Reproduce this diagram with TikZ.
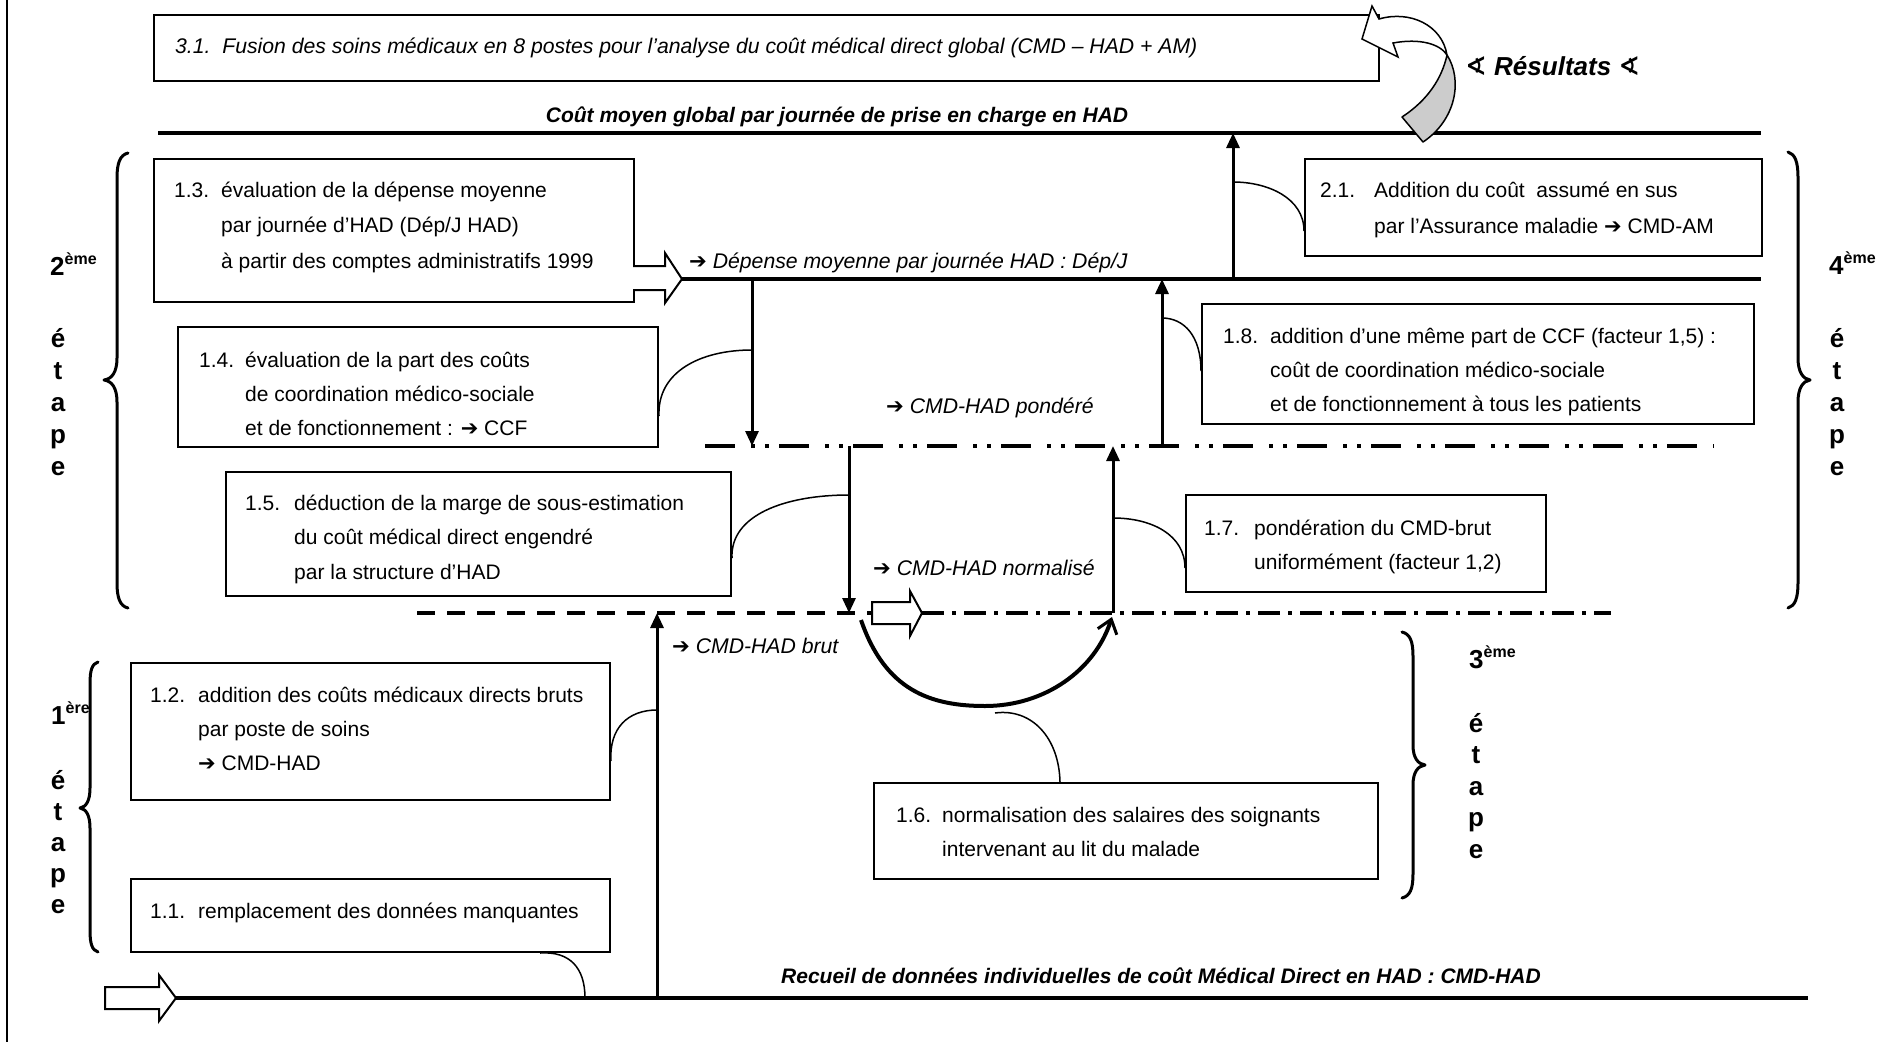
\documentclass[tikz,border=0pt]{standalone}
\usepackage{fontspec}
\setmainfont{Liberation Sans}
\newfontfamily\symfont{DejaVu Sans}
\usetikzlibrary{arrows.meta}

\definecolor{ribbon}{gray}{0.80}
\newcommand\fleche{{\symfont\upshape\bfseries ➔}}
\newcommand\stepno[2]{\makebox[#1][l]{#2}}
\newcommand\stepgap[1]{\hspace*{#1}}

\tikzset{
  stepbox/.style={draw, line width=2pt, fill=white, inner sep=0pt, anchor=north west},
  body/.style={font=\fontsize{21}{#1}\selectfont, inner sep=0pt, anchor=base west},
  body/.default=34,
  note/.style={font=\fontsize{21.2}{25}\selectfont\itshape, inner sep=0pt, anchor=base west},
  headline/.style={font=\fontsize{21}{25}\selectfont\bfseries\itshape, inner sep=0pt},
  stagenum/.style={font=\fontsize{26}{32}\selectfont\bfseries, inner sep=0pt, anchor=base west},
  stageword/.style={font=\fontsize{26}{#1}\selectfont\bfseries, inner sep=0pt, anchor=base},
  stageword/.default=32,
  mainline/.style={line width=4pt},
  flow/.style={line width=3pt, -{Triangle[length=15pt,width=13pt]}},
  link/.style={line width=1.5pt},
  brace/.style={line width=3pt, line cap=round, line join=round},
  hollow/.style={draw, line width=2pt, fill=white, line join=miter},
}

\begin{document}
\begin{tikzpicture}[x=1pt,y=-1pt]
\useasboundingbox (0,0) rectangle (1901,1042);

% page rule on the left
\coordinate (ruletop) at (7,0);
\coordinate (rulebot) at (7,1042);
\draw[line width=2pt] (ruletop) -- (rulebot);

% ---------- main horizontal levels ----------
\coordinate (cmL) at (158,133);   \coordinate (cmR) at (1761,133);
\coordinate (djL) at (682,279);   \coordinate (djR) at (1761,279);
\coordinate (rcL) at (176,998);   \coordinate (rcR) at (1808,998);
\coordinate (pdL) at (705,446);   \coordinate (pdR) at (1714,446);
\coordinate (nbL) at (417,613);   \coordinate (nbM) at (872,613);
\coordinate (nnL) at (922,613);   \coordinate (nnR) at (1611,613);

\draw[mainline] (cmL) -- (cmR);
\draw[mainline] (djL) -- (djR);
\draw[mainline] (rcL) -- (rcR);
\draw[mainline, dash pattern=on 30pt off 16pt on 4pt off 10pt on 4pt off 10pt] (pdL) -- (pdR);
\draw[mainline, dash pattern=on 18pt off 12pt] (nbL) -- (nbM);
\draw[mainline, dash pattern=on 22pt off 8pt on 4pt off 8pt] (nnL) -- (nnR);

% ---------- step boxes ----------
\node[stepbox, minimum width=1225pt, minimum height=66pt] (b31) at (153,14) {};
\node[stepbox, minimum width=480pt, minimum height=143pt] (b13) at (153,158) {};
\node[stepbox, minimum width=480pt, minimum height=120pt] (b14) at (177,326) {};
\node[stepbox, minimum width=505pt, minimum height=124pt] (b15) at (225,471) {};
\node[stepbox, minimum width=552pt, minimum height=120pt] (b18) at (1201,303) {};
\node[stepbox, minimum width=457pt, minimum height=97pt] (b21) at (1304,158) {};
\node[stepbox, minimum width=360pt, minimum height=97pt] (b17) at (1185,494) {};
\node[stepbox, minimum width=479pt, minimum height=137pt] (b12) at (130,662) {};
\node[stepbox, minimum width=479pt, minimum height=73pt] (b11) at (130,878) {};
\node[stepbox, minimum width=504pt, minimum height=96pt] (b16) at (873,782) {};

% ---------- box texts ----------
\node[note] (t31) at (175,53) {3.1.\ \ Fusion des soins médicaux en 8 postes pour l’analyse du coût médical direct global (CMD – HAD + AM)};
\node[body=35.5] (t13) at (174,197) {\begin{tabular}[t]{@{}l@{}}\stepno{47pt}{1.3.}évaluation de la dépense moyenne\\\stepgap{47pt}par journée d’HAD (Dép/J HAD)\\\stepgap{47pt}à partir des comptes administratifs 1999\end{tabular}};
\node[body] (t14) at (199,367) {\begin{tabular}[t]{@{}l@{}}\stepno{46pt}{1.4.}évaluation de la part des coûts\\\stepgap{46pt}de coordination médico-sociale\\\stepgap{46pt}et de fonctionnement : \fleche{} CCF\end{tabular}};
\node[body=34.5] (t15) at (245,510) {\begin{tabular}[t]{@{}l@{}}\stepno{49pt}{1.5.}déduction de la marge de sous-estimation\\\stepgap{49pt}du coût médical direct engendré\\\stepgap{49pt}par la structure d’HAD\end{tabular}};
\node[body] (t18) at (1223,343) {\begin{tabular}[t]{@{}l@{}}\stepno{47pt}{1.8.}addition d’une même part de CCF (facteur 1,5) :\\\stepgap{47pt}coût de coordination médico-sociale\\\stepgap{47pt}et de fonctionnement à tous les patients\end{tabular}};
\node[body=36] (t21) at (1320,197) {\begin{tabular}[t]{@{}l@{}}\stepno{54pt}{2.1.}Addition du coût\ \ assumé en sus\\\stepgap{54pt}par l’Assurance maladie \fleche{} CMD-AM\end{tabular}};
\node[body] (t17) at (1204,535) {\begin{tabular}[t]{@{}l@{}}\stepno{50pt}{1.7.}pondération du CMD-brut\\\stepgap{50pt}uniformément (facteur 1,2)\end{tabular}};
\node[body] (t12) at (150,702) {\begin{tabular}[t]{@{}l@{}}\stepno{48pt}{1.2.}addition des coûts médicaux directs bruts\\\stepgap{48pt}par poste de soins\\\stepgap{48pt}\fleche{} CMD-HAD\end{tabular}};
\node[body] (t11) at (150,918) {\stepno{48pt}{1.1.}remplacement des données manquantes};
\node[body] (t16) at (896,822) {\begin{tabular}[t]{@{}l@{}}\stepno{46pt}{1.6.}normalisation des salaires des soignants\\\stepgap{46pt}intervenant au lit du malade\end{tabular}};

% ---------- level labels ----------
\node[headline, anchor=base] (lcm) at (837,122) {Coût moyen global par journée de prise en charge en HAD};
\node[headline, anchor=base] (lrc) at (1161,983) {Recueil de données individuelles de coût Médical Direct en HAD : CMD-HAD};
\node[note] (ldj) at (689,268) {\fleche{} Dépense moyenne par journée HAD : Dép/J};
\node[note] (lpd) at (886,413) {\fleche{} CMD-HAD pondéré};
\node[note] (lnm) at (873,575) {\fleche{} CMD-HAD normalisé};
\node[note] (lbr) at (672,653) {\fleche{} CMD-HAD brut};
\node[headline, anchor=base west, font=\fontsize{26}{30}\selectfont\bfseries\itshape] (lres) at (1465,75) {{\symfont ∢}\ Résultats\ {\symfont ∢}};

% ---------- hollow block arrows ----------
\draw[hollow] (633,266) -- (665,266) -- (665,253) -- (djL) -- (665,303) -- (665,290) -- (633,290);
\draw[hollow] (872,602) -- (910,602) -- (910,591) -- (nnL) -- (910,636) -- (910,624) -- (872,624) -- cycle;
\draw[hollow] (105,987) -- (159,987) -- (159,975) -- (rcL) -- (159,1021) -- (159,1009) -- (105,1009) -- cycle;

% ---------- flow arrows between levels ----------
\coordinate (a1s) at (752,279);  \coordinate (a1e) at (752,446);
\coordinate (a2s) at (849,446);  \coordinate (a2e) at (849,613);
\coordinate (a3s) at (657,998);  \coordinate (a3e) at (657,613);
\coordinate (a4s) at (1113,613); \coordinate (a4e) at (1113,446);
\coordinate (a5s) at (1162,446); \coordinate (a5e) at (1162,279);
\coordinate (a6s) at (1233,279); \coordinate (a6e) at (1233,133);
\draw[flow] (a1s) -- (a1e);
\draw[flow] (a2s) -- (a2e);
\draw[flow] (a3s) -- (a3e);
\draw[flow] (a4s) -- (a4e);
\draw[flow] (a5s) -- (a5e);
\draw[flow] (a6s) -- (a6e);

% normalisation loop under the lower level
\coordinate (u1) at (861,620);
\coordinate (u2) at (1112,617);
\draw[line width=4pt, -{Straight Barb[length=13pt,width=20pt,line width=3pt]}]
  (u1) .. controls (885,690) and (930,706) .. (985,706) .. controls (1045,706) and (1095,670) .. (u2);

% ---------- links from boxes to the flow ----------
\coordinate (j21) at (1233,182);
\coordinate (j18) at (1162,318);
\coordinate (j14) at (752,350);
\coordinate (j15) at (849,495);
\coordinate (j17) at (1113,518);
\coordinate (j12) at (657,710);
\coordinate (j11) at (585,998);
\coordinate (j16) at (995,713);
\draw[link] ([yshift=-23.5pt]b21.west) .. controls (1304,198) and (1268,182) .. (j21);
\draw[link] ([yshift=-7pt]b18.west) .. controls (1201,336) and (1184,318) .. (j18);
\draw[link] ([yshift=-29pt]b14.east) .. controls (657,372) and (700,350) .. (j14);
\draw[link] ([yshift=-24pt]b15.east) .. controls (730,515) and (785,495) .. (j15);
\draw[link] ([yshift=-24.5pt]b17.west) .. controls (1185,535) and (1152,518) .. (j17);
\draw[link] ([yshift=-29.5pt]b12.east) .. controls (609,728) and (628,710) .. (j12);
\draw[link] ([xshift=169.5pt]b11.south) .. controls (570,951) and (585,968) .. (j11);
\draw[link] ([xshift=-66pt]b16.north) .. controls (1059,738) and (1032,708) .. (j16);

% ---------- ribbon arrow towards 3.1 ----------
\draw[line width=1.5pt, fill=ribbon, line join=round]
  (1447,55) .. controls (1463,80) and (1456,120) .. (1423,142) -- (1402,117)
  .. controls (1428,100) and (1442,78) .. (1447,55) -- cycle;
\draw[line width=1.5pt, fill=white, line join=miter]
  (1362,39) -- (1372,6) -- (1379,19) .. controls (1410,10) and (1442,25) .. (1447,55)
  .. controls (1440,44) and (1420,38) .. (1393,43) -- (1398,57) -- cycle;

% ---------- stage braces ----------
\draw[brace] (128,153) .. controls (120,155) and (117,163) .. (117,178) -- (117,358)
  .. controls (117,372) and (112,379) .. (104,380) .. controls (112,381) and (117,388) .. (117,402)
  -- (117,583) .. controls (117,598) and (120,606) .. (128,608);
\draw[brace] (98,662) .. controls (92,664) and (90,670) .. (90,684) -- (90,788)
  .. controls (90,801) and (86,807) .. (80,808) .. controls (86,809) and (90,815) .. (90,828)
  -- (90,930) .. controls (90,944) and (92,950) .. (98,952);
\draw[brace] (1402,632) .. controls (1410,634) and (1413,641) .. (1413,656) -- (1413,745)
  .. controls (1413,758) and (1418,764) .. (1425,765) .. controls (1418,766) and (1413,772) .. (1413,785)
  -- (1413,874) .. controls (1413,889) and (1410,896) .. (1402,898);
\draw[brace] (1788,152) .. controls (1795,154) and (1798,162) .. (1798,177) -- (1798,358)
  .. controls (1798,372) and (1803,379) .. (1810,380) .. controls (1803,381) and (1798,388) .. (1798,402)
  -- (1798,583) .. controls (1798,598) and (1795,606) .. (1788,608);

% ---------- stage labels ----------
\node[stagenum] (s2) at (50,275) {2\raisebox{11pt}{\fontsize{16}{16}\selectfont ème}};
\node[stageword] (s2w) at (58,347) {\begin{tabular}[t]{@{}c@{}}é\\t\\a\\p\\e\end{tabular}};
\node[stagenum] (s1) at (51,724) {1\raisebox{11pt}{\fontsize{16}{16}\selectfont ère}};
\node[stageword=31] (s1w) at (58,789) {\begin{tabular}[t]{@{}c@{}}é\\t\\a\\p\\e\end{tabular}};
\node[stagenum] (s3) at (1469,668) {3\raisebox{11pt}{\fontsize{16}{16}\selectfont ème}};
\node[stageword=31.5] (s3w) at (1476,732) {\begin{tabular}[t]{@{}c@{}}é\\t\\a\\p\\e\end{tabular}};
\node[stagenum] (s4) at (1829,274) {4\raisebox{11pt}{\fontsize{16}{16}\selectfont ème}};
\node[stageword] (s4w) at (1837,347) {\begin{tabular}[t]{@{}c@{}}é\\t\\a\\p\\e\end{tabular}};

\end{tikzpicture}
\end{document}
